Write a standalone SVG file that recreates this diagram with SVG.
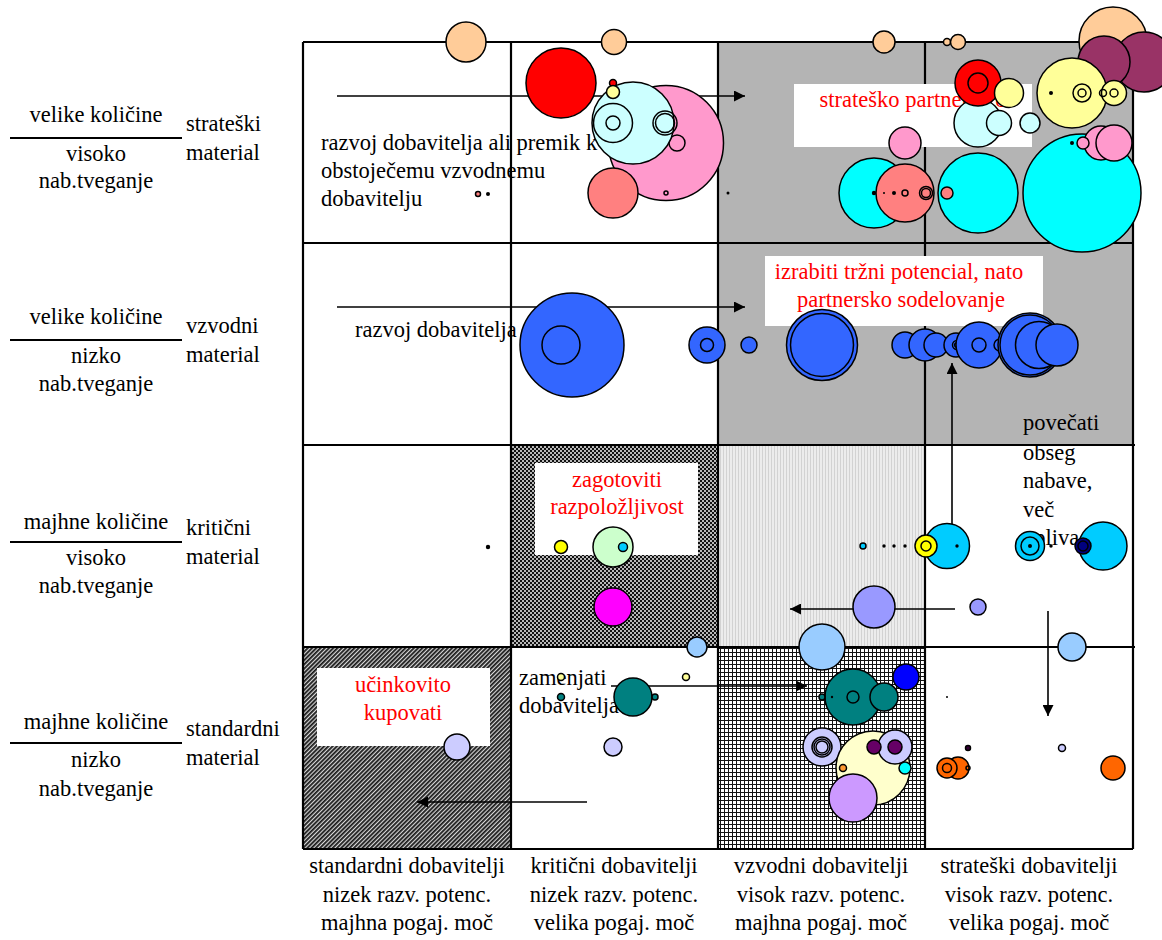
<svg xmlns="http://www.w3.org/2000/svg" width="1162" height="940" viewBox="0 0 1162 940">
  <style>
    text { font-family: "Liberation Serif", "Times New Roman", serif; font-size: 22.5px; fill: #000; }
    .red { fill: #ff0000; }
    .mid { text-anchor: middle; }
    .b { stroke: #000; stroke-width: 1.5; }
    .ring { fill: none; stroke: #000; stroke-width: 1.5; }
    .grid { fill: none; stroke: #000; stroke-width: 2.2; }
    .arrow { fill: none; stroke: #000; stroke-width: 1.6; marker-end: url(#ah); }
    .rule { stroke: #000; stroke-width: 2; }
  </style>
  <defs>
    <marker id="ah" viewBox="0 0 10 10" refX="10" refY="5" markerWidth="12" markerHeight="11" markerUnits="userSpaceOnUse" orient="auto">
      <path d="M0,0 L10,5 L0,10 z" fill="#000"/>
    </marker>
    <pattern id="pChecker" width="4" height="4" patternUnits="userSpaceOnUse">
      <rect width="4" height="4" fill="#b8b8b8"/>
      <rect width="2" height="2" fill="#111"/>
      <rect x="2" y="2" width="2" height="2" fill="#111"/>
    </pattern>
    <pattern id="pLight" width="3" height="3" patternUnits="userSpaceOnUse">
      <rect width="3" height="3" fill="#ececec"/>
      <rect width="1" height="3" fill="#d2d2d2"/>
    </pattern>
    <pattern id="pDiag" width="3" height="3" patternUnits="userSpaceOnUse" patternTransform="rotate(45)">
      <rect width="3" height="3" fill="#d8d8d8"/>
      <rect width="1.8" height="3" fill="#1a1a1a"/>
    </pattern>
    <pattern id="pGrid" width="4" height="4" patternUnits="userSpaceOnUse">
      <rect width="4" height="4" fill="#fff"/>
      <rect width="4" height="1" fill="#111"/>
      <rect width="1" height="4" fill="#111"/>
    </pattern>
  </defs>

  <rect width="1162" height="940" fill="#fff"/>

  <!-- cell backgrounds -->
  <g id="cell-fills">
    <rect x="718" y="42" width="415" height="403" fill="#b4b4b4"/>
    <rect x="511" y="445" width="207" height="202" fill="url(#pChecker)"/>
    <rect x="718" y="445" width="207" height="202" fill="url(#pLight)"/>
    <rect x="303" y="647" width="208" height="202" fill="url(#pDiag)"/>
    <rect x="718" y="647" width="207" height="202" fill="url(#pGrid)"/>
  </g>

  <!-- row labels -->
  <g id="row-labels">
    <g id="row1-label">
      <text class="mid" x="96" y="122">velike količine</text>
      <line class="rule" x1="10" y1="138" x2="182" y2="138"/>
      <text class="mid" x="96" y="161">visoko</text>
      <text class="mid" x="96" y="188">nab.tveganje</text>
      <text x="186" y="131">strateški</text>
      <text x="186" y="160">material</text>
    </g>
    <g id="row2-label">
      <text class="mid" x="96" y="324">velike količine</text>
      <line class="rule" x1="10" y1="340" x2="182" y2="340"/>
      <text class="mid" x="96" y="363">nizko</text>
      <text class="mid" x="96" y="391">nab.tveganje</text>
      <text x="186" y="333">vzvodni</text>
      <text x="186" y="362">material</text>
    </g>
    <g id="row3-label">
      <text class="mid" x="96" y="529">majhne količine</text>
      <line class="rule" x1="10" y1="542" x2="182" y2="542"/>
      <text class="mid" x="96" y="565">visoko</text>
      <text class="mid" x="96" y="593">nab.tveganje</text>
      <text x="186" y="535">kritični</text>
      <text x="186" y="564">material</text>
    </g>
    <g id="row4-label">
      <text class="mid" x="96" y="729">majhne količine</text>
      <line class="rule" x1="10" y1="743" x2="182" y2="743"/>
      <text class="mid" x="96" y="767">nizko</text>
      <text class="mid" x="96" y="796">nab.tveganje</text>
      <text x="186" y="736">standardni</text>
      <text x="186" y="765">material</text>
    </g>
  </g>

  <!-- column labels -->
  <g id="col-labels">
    <g id="col1-label">
      <text class="mid" x="407" y="873">standardni dobavitelji</text>
      <text class="mid" x="407" y="902">nizek razv. potenc.</text>
      <text class="mid" x="407" y="930">majhna pogaj. moč</text>
    </g>
    <g id="col2-label">
      <text class="mid" x="614" y="873">kritični dobavitelji</text>
      <text class="mid" x="614" y="902">nizek razv. potenc.</text>
      <text class="mid" x="614" y="930">velika pogaj. moč</text>
    </g>
    <g id="col3-label">
      <text class="mid" x="821" y="873">vzvodni dobavitelji</text>
      <text class="mid" x="821" y="902">visok razv. potenc.</text>
      <text class="mid" x="821" y="930">majhna pogaj. moč</text>
    </g>
    <g id="col4-label">
      <text class="mid" x="1029" y="873">strateški dobavitelji</text>
      <text class="mid" x="1029" y="902">visok razv. potenc.</text>
      <text class="mid" x="1029" y="930">velika pogaj. moč</text>
    </g>
  </g>

  <!-- plain strategy notes inside cells -->
  <g id="cell-notes">
    <text x="321" y="150">razvoj dobavitelja ali premik k</text>
    <text x="321" y="178">obstoječemu vzvodnemu</text>
    <text x="321" y="206">dobavitelju</text>
    <text x="355" y="337">razvoj dobavitelja</text>
    <text x="1023" y="430">povečati</text>
    <text x="1023" y="460">obseg</text>
    <text x="1023" y="488">nabave,</text>
    <text x="1023" y="517">več</text>
    <text x="1023" y="545">vpliva</text>
    <text x="519" y="685">zamenjati</text>
    <text x="519" y="713">dobavitelja</text>
  </g>

  <!-- portfolio grid -->
  <g id="grid">
    <path class="grid" d="M303,42 V849 M511,42 V849 M718,42 V849 M925,42 V849 M1133,42 V849 M303,42 H1133 M303,243 H1133 M303,445 H1135 M303,647 H1135 M303,849 H1133"/>
  </g>

  <!-- highlighted strategies -->
  <g id="box-partnerstvo">
    <rect x="794" y="84" width="238" height="63" fill="#fff"/>
    <text class="red mid" x="913" y="107">strateško partnerstvo</text>
  </g>
  <g id="box-potencial">
    <rect x="765" y="256" width="278" height="70" fill="#fff"/>
    <text class="red mid" x="899" y="279">izrabiti tržni potencial, nato</text>
    <text class="red mid" x="901" y="307">partnersko sodelovanje</text>
  </g>
  <g id="box-razpolozljivost">
    <rect x="535" y="463" width="163" height="92" fill="#fff"/>
    <text class="red mid" x="617" y="487">zagotoviti</text>
    <text class="red mid" x="617" y="514">razpoložljivost</text>
  </g>
  <g id="box-kupovati">
    <rect x="317" y="668" width="173" height="78" fill="#fff"/>
    <text class="red mid" x="403" y="692">učinkovito</text>
    <text class="red mid" x="403" y="720">kupovati</text>
  </g>

  <!-- movement arrows -->
  <g id="connectors">
    <line class="arrow" x1="337" y1="96" x2="745" y2="96"/>
    <line class="arrow" x1="337" y1="307" x2="745" y2="307"/>
    <line class="arrow" x1="952" y1="540" x2="952" y2="363"/>
    <line class="arrow" x1="955" y1="609" x2="790" y2="609"/>
    <line class="arrow" x1="1048" y1="611" x2="1048" y2="716"/>
    <line class="arrow" x1="611" y1="686" x2="807" y2="686"/>
    <line class="arrow" x1="587" y1="802" x2="417" y2="802"/>
  </g>

  <!-- supplier bubbles, row 1 -->
  <g id="bubbles-r1c1">
    <circle class="b" cx="466" cy="42" r="20" fill="#ffcc99"/>
    <circle class="b" cx="478" cy="194" r="2.5" fill="#ff8080"/>
    <circle cx="488" cy="194" r="2" fill="#000"/>
  </g>
  <g id="bubbles-r1c2">
    <circle class="b" cx="614" cy="42" r="12.5" fill="#ffcc99"/>
    <circle class="b" cx="561" cy="83" r="35" fill="#ff0000"/>
    <circle class="b" cx="666" cy="143" r="57.5" fill="#ff99cc"/>
    <circle class="ring" cx="666" cy="193" r="2"/>
    <circle class="b" cx="677" cy="143" r="8" fill="#ff99cc"/>
    <circle class="b" cx="633" cy="123" r="41" fill="#ccffff"/>
    <circle class="ring" cx="613" cy="123" r="19.5"/>
    <circle class="ring" cx="613" cy="123" r="7"/>
    <circle class="ring" cx="665" cy="123" r="12"/>
    <circle class="ring" cx="665" cy="123" r="9.5" stroke-width="2.5"/>
    <circle class="b" cx="613" cy="83" r="3.5" fill="#ff0000"/>
    <circle class="b" cx="613" cy="92" r="6.5" fill="#ffff99"/>
    <circle class="b" cx="613" cy="193" r="25" fill="#ff8080"/>
  </g>
  <g id="bubbles-r1c3">
    <circle class="b" cx="884" cy="42" r="11" fill="#ffcc99"/>
    <circle cx="728" cy="193" r="1.5" fill="#000"/>
    <circle class="b" cx="905" cy="143" r="16" fill="#ff99cc"/>
    <circle class="b" cx="874" cy="193" r="35" fill="#00ffff"/>
    <circle class="b" cx="905" cy="193" r="29" fill="#ff8080"/>
    <circle cx="874" cy="193" r="2.2" fill="#000"/>
    <circle cx="884" cy="193" r="1" fill="#000"/>
    <circle cx="894" cy="193" r="2" fill="#000"/>
    <circle class="ring" cx="905" cy="193" r="3"/>
    <circle class="ring" cx="926" cy="193" r="6.5" stroke-width="2.2"/>
    <circle class="ring" cx="926" cy="193" r="4.5"/>
  </g>
  <g id="bubbles-r1c4">
    <circle class="b" cx="947" cy="42" r="3.5" fill="#ffcc99"/>
    <circle class="b" cx="958" cy="42" r="7.5" fill="#ffcc99"/>
    <circle class="b" cx="1113" cy="41" r="34" fill="#ffcc99"/>
    <circle class="b" cx="1144" cy="62" r="30" fill="#993366"/>
    <circle class="b" cx="1104" cy="62" r="26" fill="#993366"/>
    <circle class="b" cx="1072" cy="93" r="35" fill="#ffff99"/>
    <circle cx="1051" cy="93" r="2" fill="#000"/>
    <circle class="ring" cx="1082" cy="93" r="9"/>
    <circle class="ring" cx="1082" cy="93" r="4"/>
    <circle class="b" cx="1114" cy="93" r="12.5" fill="#ffff99"/>
    <circle class="ring" cx="1103" cy="93" r="3.5"/>
    <circle class="ring" cx="1114" cy="93" r="4"/>
    <circle class="b" cx="978" cy="123" r="24" fill="#ccffff"/>
    <circle class="b" cx="999" cy="123" r="12.5" fill="#ccffff"/>
    <circle class="b" cx="1030" cy="123" r="10" fill="#ccffff"/>
    <circle class="b" cx="978" cy="83" r="23" fill="#ff0000"/>
    <circle class="ring" cx="978" cy="83" r="10"/>
    <circle class="b" cx="1009" cy="93" r="14.5" fill="#ffff99"/>
    <circle class="b" cx="978" cy="193" r="40" fill="#00ffff"/>
    <circle class="b" cx="947" cy="193" r="6" fill="#ff8080"/>
    <circle class="b" cx="1082" cy="193" r="59" fill="#00ffff"/>
    <circle class="b" cx="1101" cy="143" r="17" fill="#ff99cc"/>
    <circle class="b" cx="1114" cy="143" r="18" fill="#ff99cc"/>
    <circle class="b" cx="1083" cy="143" r="6" fill="#ff99cc"/>
    <circle cx="1072" cy="143" r="2" fill="#000"/>
  </g>

  <!-- supplier bubbles, row 2 -->
  <g id="bubbles-r2">
    <circle class="b" cx="572" cy="345" r="52" fill="#3366ff"/>
    <circle class="ring" cx="561" cy="345" r="19"/>
    <circle class="b" cx="707" cy="345" r="18" fill="#3366ff"/>
    <circle class="ring" cx="707" cy="345" r="6.5"/>
    <circle class="b" cx="749" cy="345" r="8" fill="#3366ff"/>
    <circle class="b" cx="822" cy="345" r="35.5" fill="#3366ff"/>
    <circle class="ring" cx="822" cy="345" r="31.5"/>
    <circle class="b" cx="905" cy="345" r="13" fill="#3366ff"/>
    <circle class="b" cx="925" cy="345" r="16" fill="#3366ff"/>
    <circle class="b" cx="936" cy="345" r="12" fill="#3366ff"/>
    <circle class="b" cx="956" cy="345" r="12" fill="#3366ff"/>
    <circle class="ring" cx="957" cy="345" r="4.5"/>
    <circle class="ring" cx="957" cy="345" r="2.3"/>
    <circle class="ring" cx="968" cy="345" r="1.5"/>
    <circle class="b" cx="979" cy="345" r="23" fill="#3366ff"/>
    <circle class="ring" cx="979" cy="345" r="7"/>
    <circle class="b" cx="1000" cy="345" r="6" fill="#3366ff"/>
    <circle class="b" cx="1030" cy="345" r="32" fill="#3366ff"/>
    <circle class="ring" cx="1030" cy="345" r="30"/>
    <circle class="b" cx="1039" cy="345" r="23.5" fill="#3366ff"/>
    <circle class="b" cx="1057" cy="345" r="21" fill="#3366ff"/>
  </g>

  <!-- supplier bubbles, row 3 -->
  <g id="bubbles-r3c1">
    <circle cx="488" cy="547" r="2.2" fill="#000"/>
  </g>
  <g id="bubbles-r3c2">
    <circle class="b" cx="561" cy="547" r="6.5" fill="#ffff00"/>
    <circle class="b" cx="613" cy="547" r="20" fill="#ccffcc"/>
    <circle class="b" cx="623" cy="547" r="4.5" fill="#00ccff"/>
    <circle class="b" cx="613" cy="607" r="19" fill="#ff00ff"/>
    <circle class="b" cx="697" cy="647" r="10" fill="#99ccff"/>
  </g>
  <g id="bubbles-r3c3">
    <circle class="b" cx="863" cy="546" r="3" fill="#00ccff"/>
    <circle cx="884" cy="546" r="1.7" fill="#000"/>
    <circle cx="894" cy="546" r="1.7" fill="#000"/>
    <circle cx="905" cy="546" r="1.7" fill="#000"/>
    <circle class="b" cx="874" cy="607" r="21" fill="#9999ff"/>
    <circle class="b" cx="822" cy="647" r="23" fill="#99ccff"/>
  </g>
  <g id="bubbles-r3c4">
    <circle class="b" cx="947" cy="546" r="22.5" fill="#00ccff"/>
    <circle cx="957" cy="546" r="1.7" fill="#000"/>
    <circle class="b" cx="926" cy="546" r="11" fill="#ffff00"/>
    <circle class="ring" cx="926" cy="546" r="5" stroke-width="2.2"/>
    <circle class="b" cx="1030" cy="546" r="14.5" fill="#00ccff"/>
    <circle class="ring" cx="1030" cy="546" r="9"/>
    <circle cx="1030" cy="546" r="2" fill="#000"/>
    <circle cx="1051" cy="546" r="1.7" fill="#000"/>
    <circle class="b" cx="1103" cy="546" r="24" fill="#00ccff"/>
    <circle class="b" cx="1083" cy="546" r="8" fill="#000080"/>
    <circle class="ring" cx="1083" cy="546" r="5"/>
    <circle class="b" cx="978" cy="607" r="8" fill="#9999ff"/>
    <circle class="b" cx="1072" cy="647" r="14" fill="#99ccff"/>
  </g>

  <!-- supplier bubbles, row 4 -->
  <g id="bubbles-r4c1">
    <circle class="b" cx="457" cy="747" r="13" fill="#ccccff"/>
  </g>
  <g id="bubbles-r4c2">
    <circle class="b" cx="561" cy="677" r="3.5" fill="#ffff99"/>
    <circle class="b" cx="561" cy="697" r="3.5" fill="#008080"/>
    <circle class="b" cx="633" cy="697" r="19" fill="#008080"/>
    <circle class="b" cx="655" cy="697" r="3" fill="#008080"/>
    <circle class="b" cx="686" cy="677" r="3.5" fill="#ffff99"/>
    <circle class="b" cx="613" cy="747" r="9" fill="#ccccff"/>
  </g>
  <g id="bubbles-r4c3">
    <circle class="b" cx="853" cy="697" r="28" fill="#008080"/>
    <circle class="ring" cx="853" cy="697" r="6"/>
    <circle class="b" cx="884" cy="697" r="14" fill="#008080"/>
    <circle class="b" cx="822" cy="697" r="3" fill="#008080"/>
    <circle cx="832" cy="697" r="1.2" fill="#000"/>
    <circle class="b" cx="906" cy="677" r="13" fill="#0000ff"/>
    <circle class="b" cx="822" cy="747" r="19" fill="#ccccff"/>
    <circle class="ring" cx="822" cy="747" r="10"/>
    <circle class="ring" cx="822" cy="747" r="8"/>
    <circle class="ring" cx="822" cy="747" r="6"/>
    <circle class="b" cx="873" cy="768" r="37" fill="#ffffcc"/>
    <circle class="b" cx="895" cy="747" r="17" fill="#ccccff"/>
    <circle class="b" cx="874" cy="747" r="7" fill="#660066"/>
    <circle class="b" cx="895" cy="747" r="7" fill="#660066"/>
    <circle class="b" cx="905" cy="768" r="6" fill="#00ffff"/>
    <circle class="b" cx="843" cy="768" r="3.5" fill="#ff9933"/>
    <circle class="b" cx="853" cy="798" r="24" fill="#cc99ff"/>
  </g>
  <g id="bubbles-r4c4">
    <circle cx="947" cy="697" r="1" fill="#000"/>
    <circle class="b" cx="968" cy="748" r="2.5" fill="#330033"/>
    <circle class="b" cx="1062" cy="748" r="3.5" fill="#ccccff"/>
    <circle class="b" cx="958" cy="768" r="11" fill="#ff6600"/>
    <circle class="b" cx="947" cy="768" r="10" fill="#ff6600"/>
    <circle class="ring" cx="947" cy="768" r="4.5"/>
    <circle class="ring" cx="968" cy="768" r="2"/>
    <circle class="b" cx="1113" cy="768" r="12" fill="#ff6600"/>
  </g>
</svg>
